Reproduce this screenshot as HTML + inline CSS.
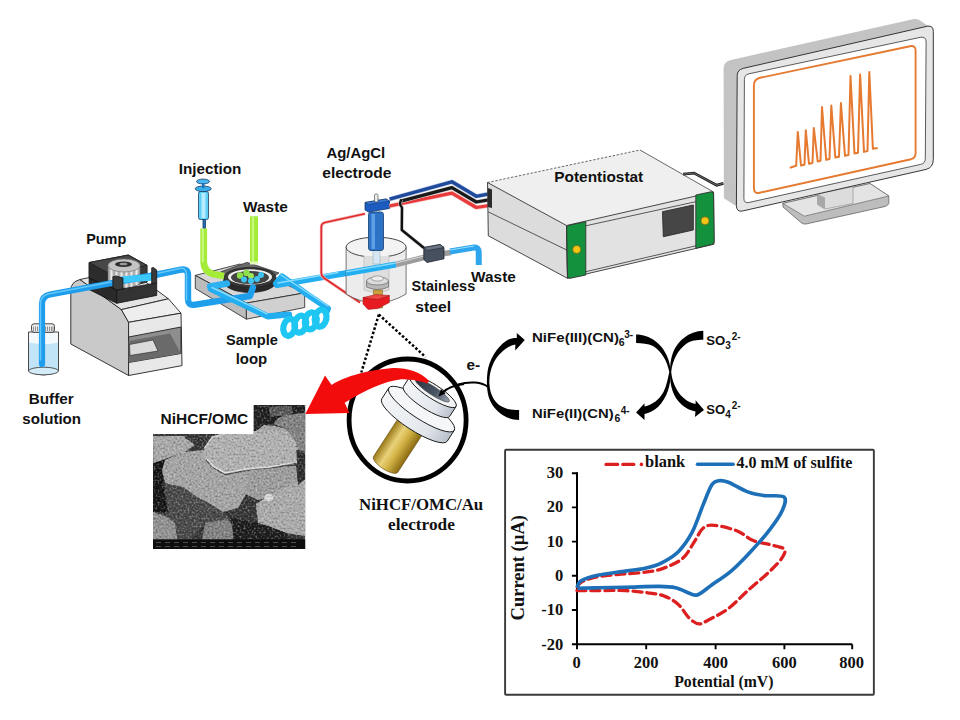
<!DOCTYPE html>
<html><head><meta charset="utf-8">
<style>
html,body{margin:0;padding:0;background:#fff;}
svg{display:block;}
text{font-family:"Liberation Sans",sans-serif;font-weight:bold;fill:#111;}
text.serif{font-family:"Liberation Serif",serif;font-weight:bold;}
</style></head><body>
<svg width="960" height="720" viewBox="0 0 960 720">
<rect width="960" height="720" fill="#fff"/>
<defs>
  <linearGradient id="gold" x1="0" y1="0" x2="1" y2="0">
    <stop offset="0" stop-color="#9a7a18"/>
    <stop offset="0.35" stop-color="#e9d27a"/>
    <stop offset="0.6" stop-color="#d4b447"/>
    <stop offset="1" stop-color="#8a6a10"/>
  </linearGradient>
  <linearGradient id="disk" x1="0" y1="0" x2="1" y2="0">
    <stop offset="0" stop-color="#f4f6f8"/>
    <stop offset="0.7" stop-color="#e3e7ec"/>
    <stop offset="1" stop-color="#b8c0ca"/>
  </linearGradient>
  <linearGradient id="bezel" x1="0" y1="0" x2="1" y2="0">
    <stop offset="0" stop-color="#c8c8c8"/>
    <stop offset="1" stop-color="#e0e0e0"/>
  </linearGradient>
  <filter id="noise" x="0" y="0" width="100%" height="100%" filterUnits="objectBoundingBox">
    <feTurbulence type="fractalNoise" baseFrequency="0.5" numOctaves="2" seed="7" result="n"/>
    <feColorMatrix in="n" type="matrix" values="0 0 0 0 1  0 0 0 0 1  0 0 0 0 1  2.2 0 0 0 -1.05" result="w"/>
    <feColorMatrix in="n" type="matrix" values="0 0 0 0 0  0 0 0 0 0  0 0 0 0 0  -2.2 0 0 0 0.95" result="k"/>
    <feMerge><feMergeNode in="w"/><feMergeNode in="k"/></feMerge>
  </filter>
  <clipPath id="semclip"><path d="M153,434 L253.5,434 L253.5,405 L305.3,405 L305.3,549 L153,549 Z"/></clipPath>
  <pattern id="semtex" x="0" y="0" width="5" height="5" patternUnits="userSpaceOnUse">
    <circle cx="1.5" cy="1.5" r="1.2" fill="#ffffff" fill-opacity="0.16"/>
    <circle cx="4" cy="3.8" r="0.9" fill="#000000" fill-opacity="0.14"/>
  </pattern>
  <linearGradient id="hole" x1="0" y1="0" x2="1" y2="0">
    <stop offset="0" stop-color="#2a3340"/>
    <stop offset="0.6" stop-color="#4a5666"/>
    <stop offset="1" stop-color="#9aa4b0"/>
  </linearGradient>
</defs>
<!-- ===== Bottle ===== -->
<g id="bottle">
  <path d="M28.5,332 L28.5,371 Q43.5,379 58.5,371 L58.5,332 Z" fill="#f3f9fd" stroke="#333" stroke-width="0.9"/>
  <path d="M29,342.5 L29,371 Q43.5,378.5 58,371 L58,342.5 Q43.5,345.5 29,342.5 Z" fill="#c2e4f7"/>
  <ellipse cx="43.5" cy="371" rx="15" ry="3.8" fill="#d4ecf8" stroke="#333" stroke-width="0.8"/>
  <rect x="31.5" y="323.8" width="23" height="8.5" rx="2.5" fill="#ececec" stroke="#333" stroke-width="0.9"/>
  <path d="M33.5,326.5 v4.5 M35.5,326.5 v4.5 M37.5,326.5 v4.5 M39.5,326.5 v4.5 M41.5,326.5 v4.5 M43.5,326.5 v4.5 M45.5,326.5 v4.5 M47.5,326.5 v4.5 M49.5,326.5 v4.5 M51.5,326.5 v4.5 M53,326.5 v4.5" stroke="#666" stroke-width="0.7"/>
</g>

<!-- ===== Pump ===== -->
<g id="pump" stroke="#222" stroke-width="0.9" stroke-linejoin="round">
  <path d="M70.8,290 Q70.8,282 80,279.5 L121.4,309.6 L128.6,322.3 L128.6,375.5 L70.8,344 Z" fill="#c9c9c9"/>
  <path d="M80,279.5 L128,269 L168.4,298.8 L121.4,309.6 Z" fill="#e4e4e4"/>
  <path d="M121.4,309.6 L168.4,298.8 L181,313.2 L128.6,322.3 Z" fill="#eeeeee"/>
  <path d="M128.6,322.3 L181,313.2 L182,365.6 L128.6,375.5 Z" fill="#e8e8e8"/>
  <path d="M128.6,337 L181,327 L181,353.5 L128.6,362.5 Z" fill="#8e8e8e"/>
  <path d="M128.6,341 L170,333.5 L181,353.5 L128.6,362.5 Z" fill="#6a6a6a" stroke="none"/>
  <path d="M129.5,344.5 L153,340 L158,351 L130,355.5 Z" fill="#dadada" stroke-width="0.6"/>
  <!-- head -->
  <path d="M89.2,262.5 L128.3,255 L147.1,265.4 L147.1,282 L116.7,290 L89.2,278 Z" fill="#3a3a3a"/>
  <path d="M89.2,262.5 L128.3,255 L147.1,265.4 L108,273 Z" fill="#474747"/>
  <path d="M89.2,262.5 L108,273 L108,288 L89.2,278 Z" fill="#2c2c2c"/>
  <path d="M89.2,278 L116.7,290 L116.7,303.3 L89.2,289.5 Z" fill="#2a2a2a" stroke="#111"/>
  <!-- gear -->
  <path d="M108,266 L108,284 Q124,292 140,284 L140,266 Z" fill="#b0b0b0" stroke="#666" stroke-width="0.6"/>
  <path d="M111.5,268 v17 M116.5,269.5 v19 M121.5,270 v19.5 M126.5,270 v19.5 M131.5,269.5 v19 M136.5,268 v17" stroke="#ececec" stroke-width="2"/>
  <ellipse cx="124" cy="265.5" rx="16" ry="6.5" fill="#c4c4c4" stroke="#777" stroke-width="0.7"/>
  <ellipse cx="123.5" cy="264.2" rx="8.5" ry="2.8" fill="#2e2e2e" stroke="none"/>
  <ellipse cx="123.5" cy="264" rx="4" ry="1.3" fill="#999" stroke="none"/>
</g>

<!-- ===== Valve block ===== -->
<g stroke="#222" stroke-width="0.8" stroke-linejoin="round">
  <path d="M195.3,275.4 L240,264 L304.7,292.9 L246.4,303.1 Z" fill="#d7d7d7"/>
  <path d="M195.3,275.4 L246.4,303.1 L246.4,319.2 L195.3,288.5 Z" fill="#bcbcbc"/>
  <path d="M246.4,303.1 L304.7,292.9 L304.7,307.5 L246.4,319.2 Z" fill="#d0d0d0"/>
  <path d="M220.8,271.8 L247.1,262.3 L279,273 L252,291 Z" fill="#6a6a6a" stroke="#333" stroke-width="0.7"/>
  <ellipse cx="250" cy="281" rx="26.5" ry="11.5" fill="#2a2a2a"/>
  <ellipse cx="250" cy="277.5" rx="26" ry="10" fill="#3a3a3a"/>
  <ellipse cx="250" cy="277" rx="22.5" ry="8.2" fill="#f0f0f0" stroke="#222" stroke-width="0.9"/>
  <ellipse cx="250" cy="277.5" rx="19" ry="6.6" fill="#444" stroke="none"/>
  <circle cx="240" cy="275.5" r="3.2" fill="#8ee04a" stroke="none"/>
  <circle cx="246.5" cy="273" r="3.2" fill="#8ee04a" stroke="none"/>
  <circle cx="251" cy="276" r="3" fill="#9ae85a" stroke="none"/>
  <circle cx="244" cy="279.5" r="3" fill="#3ec4f0" stroke="none"/>
  <circle cx="251" cy="281" r="3" fill="#3ec4f0" stroke="none"/>
  <circle cx="257" cy="279" r="3" fill="#3ec4f0" stroke="none"/>
  <circle cx="261" cy="275" r="3" fill="#3ec4f0" stroke="none"/>
</g>

<!-- ===== Blue tubes ===== -->
<g fill="none" stroke-linecap="round" stroke-linejoin="round">
  <path d="M42,364 L42,304 Q42,296 50,294.5 L112,283" stroke="#1f9cec" stroke-width="6.2"/>
  <path d="M121,281 L150,276 L181,269.7 Q188,268.5 188,275 L188,299 Q188,305.5 194,304.8 L250,296 L252.9,287.5" stroke="#1f9eec" stroke-width="6.4"/>
  <path d="M40.5,360 L40.5,304 Q40.5,296 48,294 L111,282 M121,280 L150,275 L181,268.3 Q186,267.8 186.5,274 L186.5,300" stroke="#62c8fa" stroke-width="1.5"/>
  <path d="M123,279.5 L151,277.5" stroke="#3cc8fa" stroke-width="6.4"/>
  <!-- valve ports -->
  <path d="M210,286.5 L227,283.5" stroke="#2cb0f0" stroke-width="6.4"/>
  <path d="M211,289 L267.5,316.3 L289,314.5" stroke="#22aef0" stroke-width="6.2"/>
  <path d="M276,283.5 L282,276.5 L308,295 L328,308.5 L326,313" stroke="#22aef0" stroke-width="6.2"/>
  <path d="M277,285 L338,274.5 L346,273.2" stroke="#22aef0" stroke-width="6.2"/>
  <path d="M212,287.5 L267,313.8 M281,275 L328,306 M278,283 L338,272.5" stroke="#86dcff" stroke-width="1.4"/>
</g>
<!-- pump head front (over tube) -->
<g stroke="#111" stroke-width="0.8" stroke-linejoin="round">
  <path d="M116.7,290 L156.7,282.9 L156.7,295.4 L116.7,303.3 Z" fill="#333"/>
  <path d="M112.9,276.7 L116.5,276 L122.9,278 L122.9,289 L116.7,290 L112.9,288 Z" fill="#3a3a3a"/>
  <path d="M151.7,267.9 L153.5,267.5 L156.7,270 L156.7,282.9 L151.7,284 Z" fill="#3a3a3a"/>
</g>
<!-- coil -->
<g fill="none" stroke="#1ec6f2" stroke-width="6.2">
  <ellipse cx="289.2" cy="327.3" rx="5.8" ry="8.6" transform="rotate(12 289.2 327.3)"/>
  <ellipse cx="300.3" cy="324.2" rx="5.8" ry="8.6" transform="rotate(12 300.3 324.2)"/>
  <ellipse cx="310.8" cy="320.9" rx="5.8" ry="8.6" transform="rotate(12 310.8 320.9)"/>
  <ellipse cx="320.6" cy="318.2" rx="5.8" ry="8.6" transform="rotate(12 320.6 318.2)"/>
</g>
<!-- green tubes -->
<g fill="none" stroke-linecap="butt" stroke-linejoin="round">
  <path d="M203.7,228.5 L203.7,262 Q204,272.5 215,274.5 L224,276" stroke="#a4ec38" stroke-width="6.8"/>
  <path d="M254,216.3 L254,262" stroke="#a4ec38" stroke-width="8"/>
  <path d="M254,261.5 L254,264.5" stroke="#e6f8c0" stroke-width="8"/>
  <path d="M202.8,229 L202.8,262 M253,217 L253,261" stroke="#c8f880" stroke-width="2.2"/>
</g>
<!-- syringe -->
<g stroke="#1b3f66" stroke-width="0.8">
  <rect x="203" y="219" width="2.5" height="9" fill="#1d6fb8"/>
  <rect x="198.5" y="191.5" width="10" height="28" rx="2" fill="#5fd0f5"/>
  <rect x="201.5" y="193" width="4" height="25" fill="#b8ecff" stroke="none"/>
  <ellipse cx="203.2" cy="188.8" rx="8" ry="2.8" fill="#3aaeea"/>
  <ellipse cx="203" cy="181.5" rx="6.5" ry="2.4" fill="#4ab8ee"/>
  <rect x="202" y="183" width="2.5" height="5" fill="#1d6fb8" stroke="none"/>
</g>
<!-- ===== Electrochemical cell ===== -->
<g stroke-linejoin="round">
  <path d="M365,213.8 L325,222.5 Q321.3,223.5 321.3,227 L321.3,273 Q321.3,276 324,278 L360,302.5" fill="none" stroke="#f4b0b0" stroke-width="3"/>
  <path d="M365,213.8 L325,222.5 Q321.3,223.5 321.3,227 L321.3,273 Q321.3,276 324,278 L360,302.5" fill="none" stroke="#e02a2a" stroke-width="1.6"/>
  <path d="M346.1,247.2 L346.1,294 Q376,312 406.1,294 L406.1,247.2 Z" fill="#ececec" stroke="#555" stroke-width="0.8"/>
  <ellipse cx="376.1" cy="247.2" rx="30" ry="10" fill="#f3f3f3" stroke="#333" stroke-width="0.9"/>
  <path d="M364,256 L364,290 Q376,295 389,290 L389,256" fill="#dedede" stroke="#bbb" stroke-width="0.7"/>
  <path d="M346,273.2 L396,264.5" fill="none" stroke="#22aef0" stroke-width="6.2" stroke-linecap="butt"/>
  <path d="M346,271.8 L396,263" fill="none" stroke="#86dcff" stroke-width="1.3"/>
  <!-- stainless steel electrode -->
  <path d="M366.5,281 L366.5,287 Q377.5,292 388.5,287 L388.5,281 Z" fill="#b9b9b9" stroke="#666" stroke-width="0.7"/>
  <ellipse cx="377.5" cy="281" rx="11" ry="4" fill="#dcdcdc" stroke="#666" stroke-width="0.7"/>
  <ellipse cx="377.5" cy="278.5" rx="6" ry="2.6" fill="#ececec" stroke="#777" stroke-width="0.6"/>
  <rect x="373.5" y="290" width="9" height="18" fill="#c8a040" stroke="#7a5a10" stroke-width="0.5"/>
  <path d="M363,297.5 L378,299.5 L389.4,295.5 L389.4,302.5 L378,308.5 L368,309.5 L363,304 Z" fill="#e81a22" stroke="#9a1010" stroke-width="0.5"/>
  <path d="M363,297.5 L376,294.5 L389.4,295.5 L378,299.5 Z" fill="#f04848" stroke="#9a1010" stroke-width="0.5"/>
  <!-- Ag/AgCl -->
  <rect x="373" y="249" width="7" height="15" fill="#d6e6f5" stroke="#8aa" stroke-width="0.5"/>
  <rect x="368.5" y="212" width="15" height="38.5" rx="2.5" fill="#2c73c8" stroke="#173e70" stroke-width="0.8"/>
  <rect x="371.5" y="214" width="3.5" height="35" fill="#5e9fe6"/>
  <path d="M365,202.5 L386,199 L389.5,201 L389.5,208.5 L368.5,212 L365,210 Z" fill="#1c5cc0" stroke="#173e70" stroke-width="0.8"/>
  <path d="M365,202.5 L386,199 L389.5,201 L368.5,204.5 Z" fill="#3b7ad8" stroke="#173e70" stroke-width="0.6"/>
  <rect x="374.5" y="194" width="3.5" height="8" rx="1.5" fill="#eee" stroke="#333" stroke-width="0.6"/>
</g>
<!-- wires to potentiostat -->
<g fill="none" stroke-linejoin="round" stroke-linecap="butt">
  <path d="M389.6,206 L451.9,193.1 L476.3,207.5 L495.9,204.5" stroke="#f8c8c8" stroke-width="4.6"/>
  <path d="M389.6,206 L451.9,193.1 L476.3,207.5 L495.9,204.5" stroke="#e83a3a" stroke-width="3.2"/>
  <path d="M400,201.4 L451.9,187.6 L476.3,202 L495.9,198.6" stroke="#d8d8d8" stroke-width="4.6"/>
  <path d="M400,201.4 L451.9,187.6 L476.3,202 L495.9,198.6" stroke="#1a1a1a" stroke-width="3.2"/>
  <path d="M389.6,199.2 L451.9,181.8 L476.3,196.3 L495.9,192.6" stroke="#c0cde8" stroke-width="4.6"/>
  <path d="M389.6,199.2 L451.9,181.8 L476.3,196.3 L495.9,192.6" stroke="#1f4a9c" stroke-width="3.4"/>
  <path d="M401.5,199.5 Q398.5,204 402,207.5 L401.8,230 L424,248" stroke="#d0d0d0" stroke-width="3.6"/>
  <path d="M401.5,199.5 Q398.5,204 402,207.5 L401.8,230 L424,248" stroke="#111" stroke-width="2.4"/>
</g>
<!-- outlet tube -->
<g fill="none" stroke-linecap="butt" stroke-linejoin="round">
  <path d="M396,264.5 L426,257" stroke="#9c9c9c" stroke-width="5.6"/>
  <path d="M396,263 L426,255.5" stroke="#d8d8d8" stroke-width="1.2"/>
  <path d="M444,253.5 L451,252.5" stroke="#9c9c9c" stroke-width="5.6"/>
  <path d="M450,251.5 L474,247.5 Q478.5,247 478.7,252 L478.8,265" stroke="#2ea6ee" stroke-width="6"/>
  <path d="M450,250 L474,246" stroke="#8fdcff" stroke-width="1.2"/>
</g>
<path d="M423.8,247.5 L440,244.5 L444,247.5 L444,258.8 L427,262.5 L423.8,259.5 Z" fill="#46505e" stroke="#1e2530" stroke-width="0.8"/>
<path d="M423.8,247.5 L440,244.5 L444,247.5 L427.5,250.5 Z" fill="#6a7484" stroke="#1e2530" stroke-width="0.6"/>

<!-- ===== Potentiostat ===== -->
<g stroke="#333" stroke-width="0.9" stroke-linejoin="round">
  <path d="M487.5,182.5 L640,150 L713.75,192 L566.5,225.5 Z" fill="#efefef" stroke="none"/>
  <path d="M487.5,182.5 L640,150" fill="none" stroke="#666" stroke-width="1" stroke-dasharray="2.4,1.6"/>
  <path d="M640,150 L713.5,192" fill="none" stroke="#444" stroke-width="0.8"/>
  <path d="M487.5,182.5 L566.5,225.5 L567.5,278.3 L488.3,235.8 Z" fill="#dcdcdc"/>
  <path d="M566.5,225.5 L713.5,192 L714,244.2 L567.5,278.3 Z" fill="#e2e2e2"/>
  <path d="M488.3,211.9 L567.5,250.4" fill="none" stroke-width="0.8"/>
  <path d="M585.8,225.8 L695.8,201.7 M585.8,271.7 L695.8,245.8" fill="none" stroke-width="0.8"/>
  <path d="M569,225.3 L585.8,221.7 L585.8,275 L570,278.3 Q567.5,278.5 567.5,276 L566.7,228 Q566.7,225.8 569,225.3 Z" fill="#14913c"/>
  <path d="M695.8,195 L711,191.8 Q713.5,191.5 713.6,194 L714.2,241.5 Q714.2,244 711.5,244.5 L695.8,248.3 Z" fill="#14913c"/>
  <circle cx="576.7" cy="249.4" r="4" fill="#f4c514" stroke="#6a5a10" stroke-width="0.6"/>
  <circle cx="705" cy="220.8" r="4" fill="#f4c514" stroke="#6a5a10" stroke-width="0.6"/>
  <path d="M662.5,211.7 L693.3,205 L693.3,230 L663.3,236.7 Z" fill="#464646" stroke="#2a2a2a"/>
</g>
<path d="M487.8,188 L492,189.5 L492,208 L487.8,207 Z" fill="#2a2a2a"/>
<path d="M683.1,174.2 L694.1,173.1 L716.7,185.2 L723.5,183.3" fill="none" stroke="#222" stroke-width="2.8"/>
<path d="M683.1,174.2 L694.1,173.1 L716.7,185.2 L723.5,183.3" fill="none" stroke="#888" stroke-width="0.7"/>
<!-- ===== Monitor ===== -->
<g stroke-linejoin="round">
  <!-- base -->
  <path d="M782.8,203.4 L870,183.5 L888.8,196 L888.8,203.5 Q888,205.5 885,206.5 L806,224 Q803,224.5 801,222.5 L783,207 Z" fill="#bdbdbd" stroke="#555" stroke-width="0.7"/>
  <path d="M782.8,203.4 L870,183.5 L888.8,196 L804.4,216.2 Z" fill="#e4e4e4" stroke="#666" stroke-width="0.7"/>
  <!-- neck -->
  <path d="M817.5,194 L853,186.5 L853,203.5 L825,209 L817.5,204.5 Z" fill="#dcdcdc" stroke="#888" stroke-width="0.6"/>
  <path d="M817.5,194 L825,197.5 L825,209 L817.5,204.5 Z" fill="#a8a8a8" stroke="none"/>
  <!-- outer -->
  <path d="M723.6,68 Q724,61.5 731,60 L914,19 Q917,18.5 919.5,20.2 L929,26.5 L933.3,40 L933.3,160 L741.7,211.1 L736.1,206.1 L723.9,198.3 Z" fill="#c3c3c3"/>
  <path d="M737.2,75.5 Q737.2,69.8 743.5,68.3 L927.5,26.2 Q933.3,25.3 933.3,31.5 L933.3,159.4 Q933.3,167.5 926.1,169.4 L742.5,211 Q736.4,212.2 736.4,205.5 Z" fill="#e6e6e6" stroke="#222" stroke-width="0.9"/>
  <path d="M744.4,79.5 Q744.4,74.8 749,73.8 L920.5,37.3 Q926.1,36.3 926.1,42 L925.3,158.5 Q925.3,163.5 920.6,164.4 L748.8,202.5 Q743.9,203.5 743.9,198.5 Z" fill="#fff" stroke="#333" stroke-width="0.8"/>
  <path d="M760,77.8 Q753.9,79.2 753.9,85.5 L753.9,188 Q753.9,194 759.5,192.8 L911,159.2 Q915.6,158 915.6,153 L915.6,50.5 Q915.6,45 910,46.2 Z" fill="none" stroke="#e57a30" stroke-width="1.9"/>
  <path d="M789.8,167.8 L796.2,165.8 L797.8,131.9 L801,165.4 L804.5,164.8 L805.8,130.3 L809,163.8 L812.5,163 L813.8,127.9 L817.7,161.4 L820.5,160.8 L822,107.1 L826.2,159.8 L829.5,159 L831.3,105.5 L835.3,157.4 L839,156.8 L840.9,103.1 L845,155.8 L848.5,155 L850.5,76 L854.5,153.5 L858,152.8 L860.1,74.4 L864,151.9 L867.5,151 L869.3,72 L872.9,148.7 L877.7,147.9" fill="none" stroke="#e57a30" stroke-width="2" stroke-linejoin="round"/>
</g>
<!-- ===== Dotted lines ===== -->
<path d="M378.8,314.5 L361.3,372.5 M378.8,314.5 L425.6,357" fill="none" stroke="#000" stroke-width="2.5" stroke-dasharray="2.5,2"/>

<!-- ===== Electrode circle ===== -->
<ellipse cx="407.6" cy="420" rx="58.5" ry="61" fill="#fff" stroke="#000" stroke-width="4.8"/>

<!-- electrode -->
<g transform="translate(433,391.5) rotate(33)" stroke="#1a1a1a" stroke-width="0.9" stroke-linejoin="round">
  <path d="M-14.5,28 L-14.5,87 A14.5,5 0 0 0 14.5,87 L14.5,28 Z" fill="url(#gold)" stroke="#6a5010" stroke-width="0.6"/>
  <path d="M-39,21 L-39,34 A39,10 0 0 0 39,34 L39,21 Z" fill="url(#disk)"/>
  <ellipse cx="0" cy="21" rx="39" ry="10" fill="#f5f6f8"/>
  <path d="M-27.5,0 L-27.5,12 A27.5,7 0 0 0 27.5,12 L27.5,0 Z" fill="url(#disk)"/>
  <ellipse cx="0" cy="0" rx="27.5" ry="7" fill="#f3f4f6"/>
  <ellipse cx="-1" cy="-0.5" rx="20" ry="4.2" fill="url(#hole)" stroke="#444" stroke-width="0.6"/>
</g>
<!-- wire into electrode -->
<path d="M458,384.5 C470,381 482,382 488,387" fill="none" stroke="#000" stroke-width="2"/>
<path d="M464,384 C455,385 447,388 442,393" fill="none" stroke="#000" stroke-width="2"/>
<path d="M438.5,396.5 L441,389 L445.5,393.5 Z" fill="#000"/>

<!-- red arrow -->
<path d="M305.3,414 L325,375.6 L331.6,385 C345,376 370,370 392.5,368.1 C405,367.5 420,371 429,381 L427,383.5 C418,380 405,379.2 400,379.4 C385,381 365,390 344.7,402.8 L349.4,413.1 Z" fill="#f20c0c"/>

<!-- ===== SEM ===== -->
<g clip-path="url(#semclip)">
  <rect x="153" y="405" width="152.5" height="144" fill="#343434"/>
  <!-- dark mid-gray lower left -->
  <path d="M165,483 L183,487 L197,497 L207,502 L223,512 L230,520 L205,523 L190,540 L170,540 L165,515 Z" fill="#474747"/>
  <path d="M153,462 L165,460 L163,483 L168,512 L153,512 Z" fill="#141414"/>
  <!-- top right background blobs -->
  <path d="M253,405 L305.3,405 L305.3,452 L297,445 L286,431 L262,428 L253,434 Z" fill="#1e1e1e"/>
  <path d="M268.5,407 L291.7,406 L293,413 L285,416 L270,416 Z" fill="#555"/>
  <path d="M273.6,424 C276,419 281,416 286,415 L294.4,413.9 L305.3,412.5 L305.3,452 L298,450 L293,436 L286,429 Z" fill="#7e7e7e"/>
  <path d="M254,432.6 L263.9,425 L275,425.7 L286.1,429.2 L293,436.1 L298.6,450 L254,450 Z" fill="#a4a4a4"/>
  <!-- top left light area -->
  <path d="M153,436 L185,436 L184,437 L195,445 L185,451.7 L166.7,458.3 L153.3,463.3 Z" fill="#a6a6a6"/>
  <!-- bottom-left blob -->
  <path d="M153,512 L165,516 L175,523 L177,540 L153,540 Z" fill="#8e8e8e"/>
  <!-- bottom middle blob -->
  <path d="M205,523 L228,519 L234,528 L232,540 L202,540 Z" fill="#7e7e7e"/>
  <!-- middle plate -->
  <path d="M165,460 L183,452 L205,450 L215,465 L246,469 L268,467 L296,466 L298,487 L280,495 L258,500 L246,494 L238,508 L223,512 L207,502 L197,497 L183,487 L165,483 L162,470 Z" fill="#a2a2a2"/>
  <!-- top big plate -->
  <path d="M204,449 L212,437 L226,433 L254,431 L285,431 L296,442 L297,462 L269,467 L246,469 L225,473 L213,466 L206,458 Z" fill="#aeaeae"/>
  <path d="M206,460 L213,467 L225,474.5 L246,470.5 L269,468.5 L297,463.5" fill="none" stroke="#4a4a4a" stroke-width="1.6"/>
  <path d="M206,458 L213,466 L225,473 L246,469 L269,467 L297,462" fill="none" stroke="#dcdcdc" stroke-width="1.6"/>
  <path d="M204,449 L212,437 L226,433" fill="none" stroke="#d0d0d0" stroke-width="1.4"/>
  <!-- middle-right plate (slightly darker) -->
  <path d="M250,470 L296,467 L298,487 L280,492 L258,500 L246,494 Z" fill="#9a9a9a"/>
  <!-- right bottom blob -->
  <path d="M256,504 L270,495 L279,490 L305.3,479 L305.3,536 L286,533 L268,526 L258,523 Z" fill="#a8a8a8"/>
  <ellipse cx="268.5" cy="497.5" rx="4.5" ry="3.5" fill="#d8d8d8"/>
  <!-- black gap bottom -->
  <path d="M231,518 L258,523 L268,526 L286,533 L290,540 L234,540 Z" fill="#1c1c1c"/>
  <path d="M298,452 L305.3,455 L305.3,479 L298,485 Z" fill="#2a2a2a"/>
  <rect x="153" y="405" width="152.5" height="135" fill="#808080" filter="url(#noise)" opacity="0.5"/>
  <rect x="153" y="539.3" width="152.5" height="10" fill="#0e0e0e"/>
  <path d="M156,542.5 H300 M156,546.5 H300" stroke="#6a6a6a" stroke-width="0.7" stroke-dasharray="5,4"/>
</g>
<rect x="153" y="405" width="100.5" height="29" fill="#fff"/>

<!-- ===== Chemistry arrows ===== -->
<path d="M519.1,420 C507,420 494,412 489,398 C486.5,390 486.5,380 487.5,372 C489,360 497,347 506,341 C509,339 512,338 516.8,338 L516.8,333 L524.8,340 L515.3,350.5 L515.3,344.4 C507,346 499,353 494,362 C490,370 489,378 489.4,384 C490,396 496,405 505,408 C510,410 514,410 519.1,410 Z" fill="#000"/>
<path d="M636.1,334.5 C650,334.5 662,344 667,356 C669.5,362 670.5,367 670.7,372 C671,385 667,398 658,407 C654,410.5 649,413 644.5,414 L644.5,420 L636.1,412.4 L644.5,403.2 L644.5,406.5 C652,405 659,400 663.5,392 C666.5,386 668,378 669.3,372 C667,360 661,351 653,346 C648,343.5 642,343 636.1,342.9 Z" fill="#000"/>
<path d="M703.3,330.7 C689,331 677,341 672.5,354 C670.5,360 670,366 670,372 C669.8,386 673,397 682,405 C686,408.5 690.5,410.5 695.5,411.5 L694.9,417 L704,410 L695.6,400.2 L695.6,404 C688,402.5 681.5,397.5 677,390 C673.5,384 671.7,378 671.2,372 C672.5,360 678,350 686,344 C691,340.5 697,339.8 703.3,339.8 Z" fill="#000"/>
<!-- ===== Chart ===== -->
<rect x="505.1" y="449.7" width="368.75" height="245" rx="1" fill="#fff" stroke="#3a3a3a" stroke-width="1.9"/>
<path d="M577,472.3 L577,644.2 L852.2,644.2" fill="none" stroke="#000" stroke-width="2"/>
<path d="M571.9,473.2 H577 M571.9,507.4 H577 M571.9,541.6 H577 M571.9,575.8 H577 M571.9,610 H577 M571.9,644.2 H577 M577,644.2 V649.2 M646.2,644.2 V649.2 M715.6,644.2 V649.2 M784.4,644.2 V649.2 M852.2,644.2 V649.2" stroke="#000" stroke-width="1.9"/>
<path d="M576.9,590.6 C580.4,590.6 589.7,590.6 597.8,590.6 C605.9,590.6 617.3,590.2 625.6,590.6 C633.9,591.0 641.3,591.9 647.8,592.8 C654.3,593.7 659.3,594.2 664.4,596.1 C669.5,598.0 674.1,600.7 678.3,604.4 C682.5,608.1 685.9,615.0 689.4,618.3 C692.9,621.5 696.0,623.7 699.2,623.9 C702.5,624.1 704.0,622.2 708.9,619.7 C713.8,617.2 721.8,613.5 728.3,608.6 C734.8,603.8 740.8,596.9 747.8,590.6 C754.8,584.4 764.2,576.7 770.0,571.1 C775.8,565.5 780.2,560.9 782.5,557.2 C784.8,553.5 786.0,551.0 783.9,548.9 C781.8,546.8 775.1,546.1 770.0,544.7 C764.9,543.3 758.8,542.9 753.3,540.6 C747.8,538.3 743.2,533.3 736.7,530.8 C730.2,528.2 720.0,525.8 714.4,525.3 C708.8,524.8 706.5,525.5 703.3,528.0 C700.1,530.5 698.2,535.7 695.0,540.6 C691.8,545.5 688.1,553.0 683.9,557.2 C679.7,561.4 675.1,563.3 670.0,565.6 C664.9,567.9 660.7,569.7 653.3,571.1 C645.9,572.5 634.9,573.0 625.6,573.9 C616.4,574.8 605.2,575.3 597.8,576.7 C590.4,578.1 584.6,580.3 581.1,582.2 C577.6,584.1 577.7,587.0 577.0,588.0" fill="none" stroke="#dc2020" stroke-width="3.3" stroke-dasharray="9,5" stroke-linecap="round"/>
<path d="M576.9,587.8 C577.6,586.6 577.6,582.9 581.1,580.8 C584.6,578.7 590.4,576.9 597.8,575.3 C605.2,573.7 617.7,572.3 625.6,571.1 C633.5,569.9 639.0,569.7 645.0,568.3 C651.0,566.9 656.2,565.6 661.7,562.8 C667.2,560.0 673.2,556.8 678.3,551.7 C683.4,546.6 688.0,540.1 692.2,532.2 C696.4,524.3 700.0,512.3 703.3,504.4 C706.5,496.5 709.2,488.9 711.7,485.0 C714.2,481.1 715.8,481.3 718.6,480.8 C721.4,480.3 723.4,480.4 728.3,482.2 C733.2,484.0 741.8,489.7 747.8,491.9 C753.8,494.1 758.4,494.8 764.4,495.6 C770.4,496.4 780.9,494.5 783.9,496.9 C786.9,499.3 784.8,504.6 782.5,510.0 C780.2,515.4 775.3,522.4 770.0,529.4 C764.7,536.4 757.1,544.8 750.6,551.7 C744.1,558.7 737.6,565.6 731.1,571.1 C724.6,576.6 717.2,581.1 711.7,585.0 C706.2,588.9 701.5,593.3 697.8,594.7 C694.1,596.1 693.1,594.4 689.4,593.3 C685.7,592.1 680.7,588.9 675.6,587.8 C670.5,586.6 667.2,586.5 658.9,586.4 C650.6,586.3 635.8,587.0 625.6,587.2 C615.4,587.4 605.8,587.6 597.8,587.8 C589.8,588.0 580.9,588.2 577.5,588.3" fill="none" stroke="#1d70b8" stroke-width="3.6" stroke-linejoin="round"/>
<path d="M606,464.4 H617.7 M622.8,464.4 H633.8" stroke="#dc2020" stroke-width="3.3" stroke-linecap="round"/>
<circle cx="641.4" cy="464.4" r="1.8" fill="#dc2020"/>
<path d="M697.5,464.2 H733.1" stroke="#1d70b8" stroke-width="3.6" stroke-linecap="round"/>
<g class="serif" font-size="16.5" fill="#111">
  <text x="645" y="467.3" textLength="40.2" lengthAdjust="spacingAndGlyphs" class="serif">blank</text>
  <text x="736.5" y="468" textLength="116" lengthAdjust="spacingAndGlyphs" class="serif">4.0 mM of sulfite</text>
  <text x="563.3" y="478" text-anchor="end" class="serif">30</text>
  <text x="563.3" y="512.3" text-anchor="end" class="serif">20</text>
  <text x="563.3" y="546.6" text-anchor="end" class="serif">10</text>
  <text x="563.3" y="580.9" text-anchor="end" class="serif">0</text>
  <text x="563.3" y="615.2" text-anchor="end" class="serif">-10</text>
  <text x="563.3" y="649.5" text-anchor="end" class="serif">-20</text>
  <text x="576.6" y="668" text-anchor="middle" class="serif">0</text>
  <text x="646.2" y="668" text-anchor="middle" class="serif">200</text>
  <text x="715.6" y="668" text-anchor="middle" class="serif">400</text>
  <text x="784.4" y="668" text-anchor="middle" class="serif">600</text>
  <text x="851.5" y="668" text-anchor="middle" class="serif">800</text>
  <text x="674.2" y="686.5" textLength="99.3" lengthAdjust="spacingAndGlyphs" class="serif">Potential (mV)</text>
  <text x="0" y="0" transform="translate(524,567.75) rotate(-90)" text-anchor="middle" font-size="18.5" class="serif">Current (µA)</text>
</g>
<!-- ===== Labels ===== -->
<g font-size="15">
<text x="86.2" y="244" textLength="40" lengthAdjust="spacingAndGlyphs">Pump</text>
<text x="28.7" y="404.4" textLength="45" lengthAdjust="spacingAndGlyphs">Buffer</text>
<text x="22.3" y="423.8" textLength="58.8" lengthAdjust="spacingAndGlyphs">solution</text>
<text x="178.8" y="174" textLength="62.6" lengthAdjust="spacingAndGlyphs">Injection</text>
<text x="243.1" y="211.6" textLength="44.7" lengthAdjust="spacingAndGlyphs">Waste</text>
<text x="326.5" y="157.7" textLength="58.7" lengthAdjust="spacingAndGlyphs">Ag/AgCl</text>
<text x="322.3" y="178.2" textLength="69.1" lengthAdjust="spacingAndGlyphs">electrode</text>
<text x="554.3" y="181.5" textLength="88.9" lengthAdjust="spacingAndGlyphs">Potentiostat</text>
<text x="411.5" y="291.1" textLength="63.7" lengthAdjust="spacingAndGlyphs">Stainless</text>
<text x="415.3" y="311.9" textLength="35.8" lengthAdjust="spacingAndGlyphs">steel</text>
<text x="471.1" y="281.7" textLength="44.7" lengthAdjust="spacingAndGlyphs">Waste</text>
<text x="226" y="345" textLength="51.9" lengthAdjust="spacingAndGlyphs">Sample</text>
<text x="235.7" y="363.8" textLength="31.5" lengthAdjust="spacingAndGlyphs">loop</text>
<text x="160.6" y="424.3" textLength="87.6" lengthAdjust="spacingAndGlyphs">NiHCF/OMC</text>
<text x="466.5" y="369.6" font-size="14" textLength="13.6" lengthAdjust="spacingAndGlyphs">e-</text>
</g>
<g class="serif" font-size="16">
<text class="serif" x="359" y="509.7" textLength="124.2" lengthAdjust="spacingAndGlyphs">NiHCF/OMC/Au</text>
<text class="serif" x="388.1" y="529.7" textLength="66.7" lengthAdjust="spacingAndGlyphs">electrode</text>
</g>
<g font-size="13.5">
<text x="532" y="342.2" textLength="87" lengthAdjust="spacingAndGlyphs">NiFe(III)(CN)</text>
<text x="618.7" y="346.4" font-size="10.5">6</text>
<text x="624.3" y="337.5" font-size="10">3-</text>
<text x="532" y="418.1" textLength="81.6" lengthAdjust="spacingAndGlyphs">NiFe(II)(CN)</text>
<text x="614.5" y="422.2" font-size="10.5">6</text>
<text x="620.8" y="413.7" font-size="10">4-</text>
<text x="706.3" y="345.4" textLength="19" lengthAdjust="spacingAndGlyphs">SO</text>
<text x="725.3" y="349" font-size="10">3</text>
<text x="731.8" y="339.6" font-size="10">2-</text>
<text x="706.3" y="414.3" textLength="19" lengthAdjust="spacingAndGlyphs">SO</text>
<text x="725.3" y="418.3" font-size="10">4</text>
<text x="731.8" y="408.5" font-size="10">2-</text>
</g>
</svg>
</body></html>
